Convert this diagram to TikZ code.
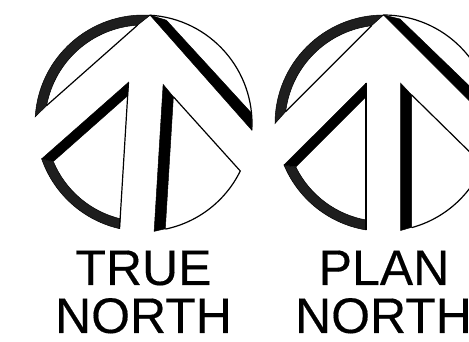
\documentclass[tikz,border=0pt]{standalone}
\usepackage{fontspec}
\setmainfont{Liberation Sans}
\newfontfamily\labelfont[FakeBold=0.3]{Liberation Sans}
\definecolor{hatch}{HTML}{1E1E1E}
\tikzset{
  thinline/.style={draw=black,line width=1.2pt,line join=miter},
  bandfill/.style={fill=black,draw=black,line width=0.5pt},
  hatchfill/.style={fill=hatch,draw=black,line width=0.5pt},
  label/.style={inner sep=0pt,font=\labelfont\fontsize{50}{50}\selectfont,anchor=base},
}
\newcommand{\northsymbol}{%
  % upper left crescent
  \path[hatchfill] (180:108.5) arc[start angle=180,end angle=90,radius=108.5]
     -- (97:98.5) arc[start angle=97,end angle=173,radius=98.5] -- cycle;
  \draw[thinline] (173:98.5) -- (97:98.5);
  % upper right arc and band
  \draw[thinline] (90:108.5) arc[start angle=90,end angle=0,radius=108.5];
  \path[bandfill] (0,108.5) -- (16.5,104.5) -- (107.1,17) -- (108.5,0) -- cycle;
  % lower left
  \path[bandfill] (-17.5,40.2) -- (-99.5,-41.5) -- (-87.5,-43.2) -- (-17.5,26.8) -- cycle;
  \path[hatchfill] (-99.5,-41.5) arc[start angle=202.6,end angle=260.7,radius=107.8]
     -- (-17.5,-96.5) arc[start angle=259.7,end angle=206.3,radius=97.6] -- cycle;
  \draw[thinline] (-17.5,40.2) -- (-17.5,-106.5);
  % lower right
  \path[bandfill] (17.2,40.2) -- (28.2,28.5) -- (28.2,-103.8) -- (17.2,-107) -- cycle;
  \draw[thinline] (28.2,28.5) -- (99.5,-41.5)
     arc[start angle=-22.6,end angle=-74.8,radius=107.8];
}
\begin{document}
\begin{tikzpicture}[x=1pt,y=1pt]
  \useasboundingbox (0,0) rectangle (469,342);
  \clip (0,0) rectangle (469,342);
  \fill[white] (0,0) rectangle (469,342);
  \begin{scope}[shift={(143.5,218.5)},rotate=-3.5]
    \northsymbol
  \end{scope}
  \begin{scope}[shift={(383.5,218.5)}]
    \northsymbol
  \end{scope}
  \node[label] (trueword) at (143.5,57) {TRUE};
  \node[label] (northa) at (143.5,9) {NORTH};
  \node[label] (planword) at (384,57) {PLAN};
  \node[label] (northb) at (383.5,9) {NORTH};
\end{tikzpicture}
\end{document}
